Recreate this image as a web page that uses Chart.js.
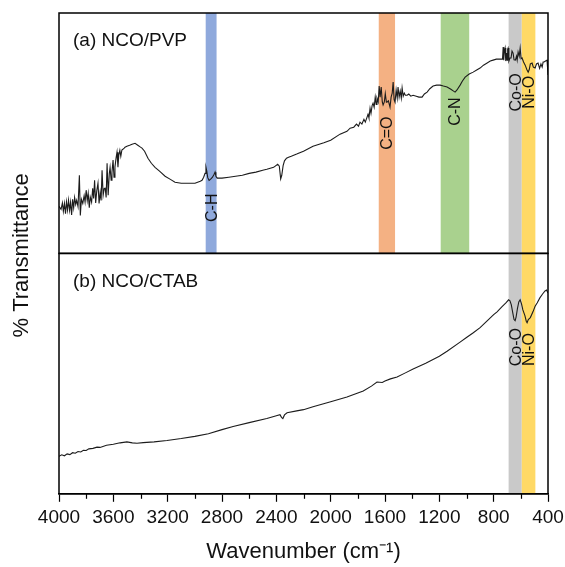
<!DOCTYPE html>
<html>
<head>
<meta charset="utf-8">
<script src="https://cdn.jsdelivr.net/npm/chart.js@4/dist/chart.umd.min.js"></script>
<style>
  html, body { margin: 0; padding: 0; background: #fff; }
  #wrap { width: 565px; height: 567px; position: relative; }
</style>
</head>
<body>
<div id="wrap"><canvas id="c" width="565" height="567"></canvas></div>
<script>
// ---------------- DATA ----------------
const panelTitles = ['(a) NCO/PVP', '(b) NCO/CTAB'];

// (a) NCO/PVP : wavenumber (cm-1) and transmittance (arb. units, 0-100 within panel)
const wnPVP = [4000,3993,3985,3975,3968,3960,3952,3945,3937,3930,3922,3915,3907,3900,3892,3885,3877,3870,3860,3850,3843,3835,3825,3815,3808,3800,3792,3785,3777,3770,3760,3752,3745,3738,3730,3722,3713,3705,3697,3690,3683,3675,3667,3660,3653,3646,3638,3630,3624,3616,3610,3602,3595,3588,3580,3573,3566,3560,3552,3545,3537,3530,3520,3514,3500,3480,3462,3440,3420,3400,3389,3370,3345,3320,3293,3260,3219,3180,3146,3100,3050,2999,2960,2947,2935,2925,2918,2912,2905,2895,2885,2870,2858,2851,2845,2835,2800,2750,2700,2650,2600,2550,2500,2470,2420,2390,2378,2368,2360,2350,2340,2325,2310,2290,2250,2200,2130,2050,2000,1931,1880,1857,1830,1810,1795,1784,1770,1755,1745,1732,1725,1718,1710,1703,1695,1688,1680,1672,1665,1659,1650,1643,1636,1628,1620,1614,1605,1598,1590,1585,1575,1563,1555,1547,1540,1533,1526,1518,1510,1504,1496,1488,1480,1474,1466,1458,1450,1437,1425,1410,1393,1370,1350,1327,1310,1290,1270,1246,1220,1194,1170,1143,1115,1095,1084,1070,1047,1030,1010,980,951,925,900,875,848,825,804,780,753,735,730,726,722,716,711,705,701,697,694,688,680,672,665,657,650,640,632,627,620,612,605,598,591,580,568,556,546,538,530,517,508,495,485,473,462,452,443,436,429,418,407,402,400];
const trPVP = [19.6,19.6,18.3,21.0,17.5,20.8,16.5,21.5,18.0,22.1,17.9,21.3,16.0,22.5,19.0,23.3,20.4,22.1,19.5,32.5,15.8,22.5,20.8,24.0,21.3,26.3,22.0,25.0,19.0,23.5,21.3,27.1,22.9,30.4,21.0,26.0,29.2,20.8,25.4,22.0,34.6,24.2,27.0,27.1,23.3,37.5,24.2,33.0,35.8,30.4,33.8,38.8,31.7,36.0,39.6,42.1,35.8,40.8,42.9,40.4,43.0,43.3,43.8,44.2,44.6,45.0,45.4,45.8,45.0,44.2,43.8,42.5,39.6,37.5,35.8,34.2,32.1,30.8,29.6,29.2,29.2,29.2,30.0,30.4,31.7,33.3,35.8,34.2,31.5,30.4,30.8,31.7,32.9,33.8,32.1,31.3,31.3,31.7,32.1,32.5,33.3,33.8,34.6,35.0,35.8,37.1,36.3,31.0,32.5,36.5,38.5,39.6,40.0,40.4,41.3,42.5,44.6,46.0,47.1,49.6,50.8,52.1,52.5,53.8,52.9,54.6,53.8,55.8,54.6,56.7,57.9,56.3,60.4,58.3,61.5,62.5,60.8,65.0,62.0,64.6,63.0,69.6,65.0,69.2,63.0,61.7,63.0,66.5,62.9,62.9,63.5,60.8,65.0,66.7,71.3,64.0,62.9,68.0,64.6,69.2,65.0,67.5,64.6,68.8,65.4,66.7,65.8,65.8,66.3,65.4,65.8,65.4,65.0,65.0,66.3,67.1,68.5,69.6,70.0,70.0,69.6,69.2,68.3,67.5,67.1,68.0,70.0,71.7,73.3,74.6,75.4,76.3,77.1,78.3,79.2,80.0,80.4,80.8,80.8,80.8,85.8,80.4,84.0,85.4,80.0,83.3,80.4,85.0,85.4,80.0,81.3,81.3,84.2,83.3,80.5,80.4,82.0,80.4,83.8,82.0,85.4,81.0,81.3,79.6,78.3,76.5,75.4,76.5,78.8,79.2,77.5,77.1,78.8,79.2,77.0,78.8,77.5,79.6,79.6,80.0,80.4,76.0,74.2];

// (b) NCO/CTAB
const wnCTAB = [4000,3980,3960,3940,3920,3900,3880,3860,3840,3820,3800,3780,3750,3720,3698,3650,3600,3550,3500,3460,3426,3380,3300,3205,3100,3000,2900,2800,2718,2600,2470,2400,2373,2362,2352,2340,2321,2250,2200,2130,2000,1880,1760,1700,1659,1620,1600,1560,1511,1450,1393,1300,1200,1143,1050,1000,950,900,850,800,775,740,710,690,680,670,660,650,642,635,625,615,605,595,585,570,560,554,545,530,510,495,480,460,440,422,410,405,400];
const trCTAB = [15.6,16.2,15.8,16.6,16.3,17.1,16.9,17.6,17.4,18.1,18.0,18.7,18.9,19.4,19.3,20.2,20.6,21.2,21.6,21.2,21.0,21.3,21.6,22.2,23.0,23.9,25.0,26.7,28.0,29.6,31.3,32.5,32.9,31.8,31.3,32.8,33.7,34.5,35.0,36.2,38.3,40.3,42.8,44.8,46.5,46.3,46.9,47.8,48.6,50.3,51.9,54.3,57.2,59.3,63.0,65.0,67.0,69.1,71.8,74.5,75.7,77.8,79.4,80.7,80.3,78.6,75.5,72.5,72.0,73.5,77.0,79.8,80.7,79.0,76.5,74.1,71.8,71.2,72.5,73.3,75.8,78.0,79.4,81.5,83.1,84.4,84.8,84.0,83.5];

// assignment bands (cm-1)
const bandLabels = ['C-H', 'C=O', 'C-N', 'Co-O', 'Ni-O'];
const bandFrom   = [2920, 1646, 1190, 690, 593];
const bandTo     = [2840, 1526, 980, 593, 493];
// label anchor (panel units) in (a) and (b); null = band not shown in that panel
const bandLabelA = [19, 50, 59, 67, 67];
const bandLabelB = [null, null, null, 61, 60];

// x-axis ticks
const xMin = 400, xMax = 4000, majorStep = 400, minorStep = 200;

// ---------------- STYLE ----------------
const FONT = "'Liberation Sans', Arial, Helvetica, sans-serif";
const bandColors = ['#8FA9DC', '#F4B183', '#A9D18E', '#C9C9C9', '#FFD966'];

const toXY = (xs, ys) => xs.map((x, i) => ({ x: x, y: ys[i] }));

const decorPlugin = {
  id: 'decor',
  beforeDatasetsDraw(chart) {
    const ctx = chart.ctx, xs = chart.scales.x;
    const panels = [chart.scales.yA, chart.scales.yB];
    const labelsPer = [bandLabelA, bandLabelB];
    ctx.save();
    panels.forEach((ys, p) => {
      bandLabels.forEach((lab, i) => {
        if (labelsPer[p][i] === null) return;
        const x1 = xs.getPixelForValue(bandFrom[i]);
        const x2 = xs.getPixelForValue(bandTo[i]);
        ctx.fillStyle = bandColors[i];
        ctx.fillRect(Math.min(x1, x2), ys.top, Math.abs(x2 - x1), ys.bottom - ys.top);
      });
    });
    panels.forEach((ys, p) => {
      bandLabels.forEach((lab, i) => {
        const v = labelsPer[p][i];
        if (v === null) return;
        const xc = (xs.getPixelForValue(bandFrom[i]) + xs.getPixelForValue(bandTo[i])) / 2;
        const yc = ys.getPixelForValue(v);
        ctx.save();
        ctx.translate(xc, yc);
        ctx.rotate(-Math.PI / 2);
        ctx.fillStyle = '#111';
        ctx.font = '16px ' + FONT;
        ctx.textAlign = 'center';
        ctx.textBaseline = 'middle';
        ctx.fillText(lab, 0, 1);
        ctx.restore();
      });
    });
    ctx.restore();
  },
  afterDraw(chart) {
    const ctx = chart.ctx, xs = chart.scales.x, area = chart.chartArea;
    const panels = [chart.scales.yA, chart.scales.yB];
    ctx.save();
    // panel frames
    ctx.strokeStyle = '#000';
    ctx.lineWidth = 1.5;
    panels.forEach(ys => {
      ctx.strokeRect(area.left, ys.top, area.right - area.left, ys.bottom - ys.top);
    });
    // minor ticks
    ctx.lineWidth = 1.2;
    for (let v = xMin + minorStep; v < xMax; v += majorStep) {
      const px = Math.round(xs.getPixelForValue(v)) + 0.5;
      ctx.beginPath();
      ctx.moveTo(px, area.bottom);
      ctx.lineTo(px, area.bottom + 5);
      ctx.stroke();
    }
    // panel titles
    ctx.fillStyle = '#111';
    ctx.font = '19px ' + FONT;
    ctx.textAlign = 'left';
    ctx.textBaseline = 'middle';
    panels.forEach((ys, p) => {
      ctx.fillText(panelTitles[p], area.left + 14, ys.top + 28);
    });
    // y-axis title
    ctx.save();
    ctx.translate(22, (area.top + area.bottom) / 2 + 2);
    ctx.rotate(-Math.PI / 2);
    ctx.font = '22px ' + FONT;
    ctx.textAlign = 'center';
    ctx.textBaseline = 'middle';
    ctx.fillText('% Transmittance', 0, 0);
    ctx.restore();
    ctx.restore();
  }
};

new Chart(document.getElementById('c'), {
  type: 'line',
  data: {
    datasets: [
      { label: panelTitles[0], data: toXY(wnPVP, trPVP), yAxisID: 'yA',
        borderColor: '#1c1c1c', borderWidth: 1.1, pointRadius: 0, tension: 0, fill: false },
      { label: panelTitles[1], data: toXY(wnCTAB, trCTAB), yAxisID: 'yB',
        borderColor: '#1c1c1c', borderWidth: 1.1, pointRadius: 0, tension: 0, fill: false }
    ]
  },
  options: {
    responsive: false,
    animation: false,
    devicePixelRatio: 1,
    layout: { padding: { left: 59, right: 17, top: 13, bottom: 2 } },
    plugins: { legend: { display: false }, tooltip: { enabled: false } },
    scales: {
      x: {
        type: 'linear', reverse: true, min: xMin, max: xMax,
        afterBuildTicks(scale) {
          const t = [];
          for (let v = xMin; v <= xMax; v += majorStep) t.push({ value: v });
          scale.ticks = t;
        },
        ticks: { autoSkip: false, maxRotation: 0, color: '#111',
                 font: { family: FONT, size: 19 }, padding: 5,
                 callback: v => String(v) },
        grid: { display: true, drawOnChartArea: false, drawTicks: true,
                tickLength: 8, tickColor: '#000', tickWidth: 1.2 },
        border: { display: true, color: '#000', width: 1.5 },
        title: { display: true, text: 'Wavenumber (cm\u207B\u00B9)', color: '#111',
                 font: { family: FONT, size: 22 }, padding: { top: 4, bottom: 0 } }
      },
      // bottom panel is declared first (Chart.js stacks left axes bottom-up)
      yB: { type: 'linear', position: 'left', stack: 'panels', stackWeight: 1,
            min: 0, max: 100, display: false },
      yA: { type: 'linear', position: 'left', stack: 'panels', stackWeight: 1,
            min: 0, max: 100, display: false }
    }
  },
  plugins: [decorPlugin]
});
</script>
</body>
</html>
